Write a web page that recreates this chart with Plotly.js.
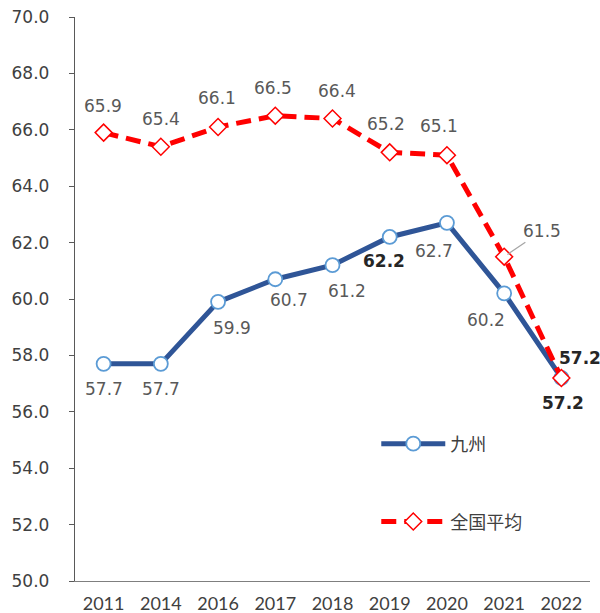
<!DOCTYPE html>
<html><head><meta charset="utf-8">
<script src="https://cdn.plot.ly/plotly-3.0.1.min.js"></script>
<style>html,body{margin:0;padding:0;background:#fff}#c{width:600px;height:613px}</style>
</head><body><div id="c"></div>
<script>
const years = ["2011","2014","2016","2017","2018","2019","2020","2021","2022"];
const jiuzhou = [57.7,57.7,59.9,60.7,61.2,62.2,62.7,60.2,57.2];
const national = [65.9,65.4,66.1,66.5,66.4,65.2,65.1,61.5,57.2];
const seriesNames = ["九州","全国平均"];
const yTicks = [50,52,54,56,58,60,62,64,66,68,70];

const FONT = 'DejaVu Sans';
const jzShift = [[0,-25],[0,-25],[14,-26],[14,-21],[14,-26],[-6,-24],[-13,-28],[-18,-27],[2,-25]];
const jzBold = [false,false,false,false,false,true,false,false,true];
const ntShift = [[-1,27],[0,28],[-1,29],[-2,28],[4,28],[-4,28],[-8,29],[0,0],[19,20]];
const ntBold = [false,false,false,false,false,false,false,false,true];

const ann = [];
for (let i=0;i<years.length;i++){
  const v = jiuzhou[i];
  ann.push({x:i,y:v,xref:'x',yref:'y',text:jzBold[i]?'<b>'+v.toFixed(1)+'</b>':v.toFixed(1),
    showarrow:false,xshift:jzShift[i][0],yshift:jzShift[i][1],
    font:{family:FONT,size:17,color:jzBold[i]?'#262626':'#595959'}});
}
for (let i=0;i<years.length;i++){
  const v = national[i];
  if(i===7){
    ann.push({x:i,y:v,xref:'x',yref:'y',text:v.toFixed(1),showarrow:true,arrowhead:0,
      arrowcolor:'#a6a6a6',arrowwidth:1.3,ax:38,ay:-26,standoff:4,
      font:{family:FONT,size:17,color:'#595959'}});
  } else {
    ann.push({x:i,y:v,xref:'x',yref:'y',text:ntBold[i]?'<b>'+v.toFixed(1)+'</b>':v.toFixed(1),
      showarrow:false,xshift:ntShift[i][0],yshift:ntShift[i][1],
      font:{family:FONT,size:17,color:ntBold[i]?'#262626':'#595959'}});
  }
}

const traces = [
  {x:years,y:jiuzhou,name:seriesNames[0],type:'scatter',mode:'lines+markers',legend:'legend',
   line:{color:'#2F5597',width:5},
   marker:{symbol:'circle',size:14,color:'#ffffff',line:{color:'#5B9BD5',width:1.8}}},
  {x:years,y:national,name:seriesNames[1],type:'scatter',mode:'lines+markers',legend:'legend2',
   line:{color:'#FF0000',width:5,dash:'15px,8px'},
   marker:{symbol:'diamond',size:13,color:'#ffffff',line:{color:'#FF0000',width:1.5}}}
];

const layout = {
  width:600,height:613,
  margin:{l:75,r:10,t:17,b:32},
  paper_bgcolor:'#fff',plot_bgcolor:'#fff',
  showlegend:true,
  legend:{x:0.585,y:0.243,xanchor:'left',yanchor:'middle',bgcolor:'rgba(0,0,0,0)',
    font:{family:'Noto Sans CJK SC',size:18,color:'#404040'},itemwidth:64},
  legend2:{x:0.585,y:0.105,xanchor:'left',yanchor:'middle',bgcolor:'rgba(0,0,0,0)',
    font:{family:'Noto Sans CJK SC',size:18,color:'#404040'},itemwidth:64},
  xaxis:{type:'category',range:[-0.5,8.5],showgrid:false,zeroline:false,
    showline:true,linecolor:'#7f7f7f',linewidth:1.2,ticks:'',ticklabelstandoff:6,
    tickfont:{family:'Lato',size:18,color:'#404040'}},
  yaxis:{range:[50,70],tickvals:yTicks,ticktext:yTicks.map(v=>v.toFixed(1)),
    showgrid:false,zeroline:false,showline:true,linecolor:'#595959',linewidth:1.2,
    ticks:'outside',ticklen:5,tickcolor:'#595959',ticklabelstandoff:16,
    tickfont:{family:FONT,size:17,color:'#404040'}},
  annotations:ann
};
Plotly.newPlot('c',traces,layout,{staticPlot:true});
</script></body></html>
